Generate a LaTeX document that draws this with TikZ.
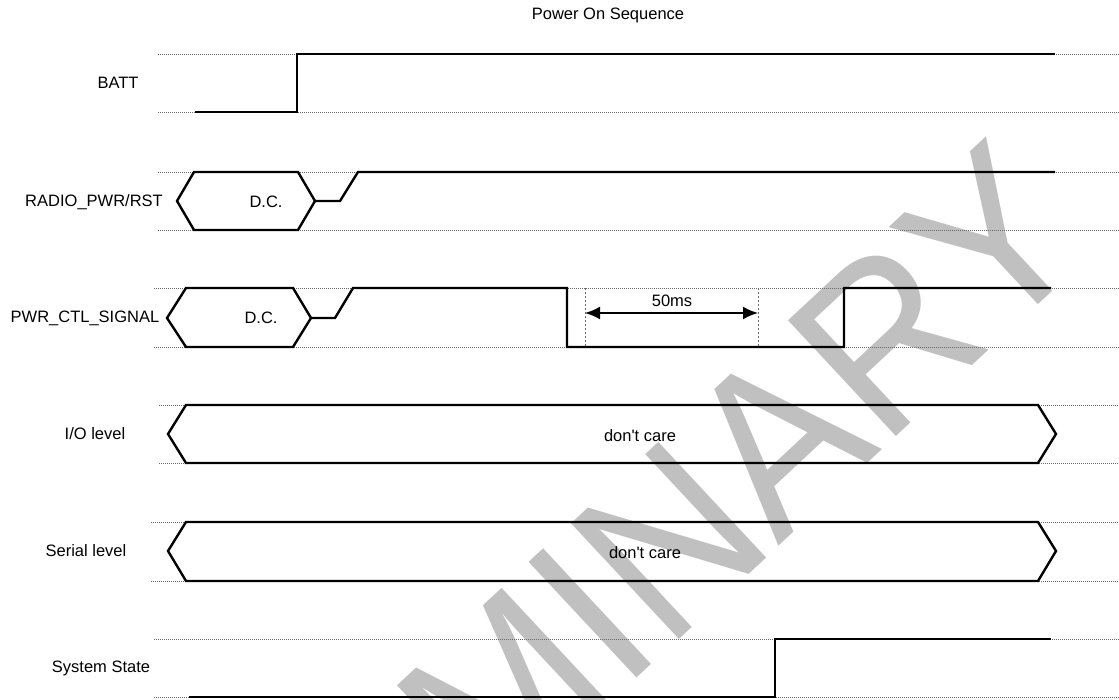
\documentclass[tikz,border=0pt]{standalone}
\usepackage{fontspec}
\setmainfont{Liberation Sans}
\usetikzlibrary{arrows.meta}
\definecolor{wmgray}{RGB}{192,192,192}
\definecolor{dotgray}{RGB}{105,105,105}
\begin{document}
\begin{tikzpicture}[x=1pt,y=-1pt,
  sig/.style={line width=2.4pt, line join=miter, black},
  guide/.style={dotgray, line width=0.8pt, dash pattern=on 1pt off 1pt},
  lbl/.style={font=\fontsize{16.5}{20}\selectfont, inner sep=0pt},
  wm/.style={font=\fontsize{230}{230}\selectfont, text=wmgray, inner sep=0pt},
  markline/.style={dotgray, line width=0.8pt, dash pattern=on 2.5pt off 1.5pt},
  dimarrow/.style={line width=2pt, {Latex[length=15pt,width=13pt]}-{Latex[length=15pt,width=13pt]}}]
\useasboundingbox (0,0) rectangle (1119,700);
\clip (0,0) rectangle (1119,700);
% watermark
\node[wm, rotate=43, xscale=0.93] (watermark) at (515,684) {PRELIMINARY};
% guide lines
\foreach \ya/\yb/\xs in {54/112/158, 172/230/158, 288/347/154, 405/463/159, 522/581/151, 639/697/154}{
  \draw[guide] (\xs,\ya) -- (1119,\ya);
  \draw[guide] (\xs,\yb) -- (1119,\yb);
}
% BATT
\draw[sig] (195,112) -- (297,112) -- (297,54) -- (1055,54);
% RADIO_PWR/RST
\draw[sig] (177,201) -- (194,172) -- (298,172) -- (315,201) -- (298,230) -- (194,230) -- cycle;
\draw[sig] (315,201) -- (340,201) -- (358,172) -- (1055,172);
% PWR_CTL_SIGNAL
\draw[sig] (167,318) -- (186,288) -- (293,288) -- (311,318) -- (293,347) -- (186,347) -- cycle;
\draw[sig] (311,318) -- (335,318) -- (353,288) -- (567,288) -- (567,347) -- (844,347) -- (844,288) -- (1051,288);
% 50ms marker
\coordinate (m1t) at (585,288); \coordinate (m1b) at (585,347);
\coordinate (m2t) at (758,288); \coordinate (m2b) at (758,347);
\draw[markline] (m1t) -- (m1b);
\draw[markline] (m2t) -- (m2b);
\coordinate (a1) at (585,313); \coordinate (a2) at (758,313);
\draw[dimarrow] (a1) -- (a2);
\node[lbl] (t50) at (672,301) {50ms};
% I/O level
\draw[sig] (168,434) -- (186,405) -- (1038,405) -- (1056,434) -- (1038,463) -- (186,463) -- cycle;
% Serial level
\draw[sig] (168,551) -- (186,522) -- (1038,522) -- (1056,551) -- (1038,581) -- (186,581) -- cycle;
% System State
\draw[sig] (189,697) -- (775,697) -- (775,639) -- (1051,639);
% labels
\node[lbl] (title) at (608,15) {Power On Sequence};
\node[lbl] (lbatt) at (118,83) {BATT};
\node[lbl] (lradio) at (94,202) {RADIO\_PWR/RST};
\node[lbl] (lpwr) at (85,318) {PWR\_CTL\_SIGNAL};
\node[lbl] (lio) at (95,434) {I/O level};
\node[lbl] (lser) at (86,551) {Serial level};
\node[lbl] (lsys) at (101,668) {System State};
\node[lbl] (dc1) at (266,202) {D.C.};
\node[lbl] (dc2) at (261,318) {D.C.};
\node[lbl] (dcio) at (640,436) {don\textquotesingle t care};
\node[lbl] (dcser) at (645,553) {don\textquotesingle t care};
\end{tikzpicture}
\end{document}
